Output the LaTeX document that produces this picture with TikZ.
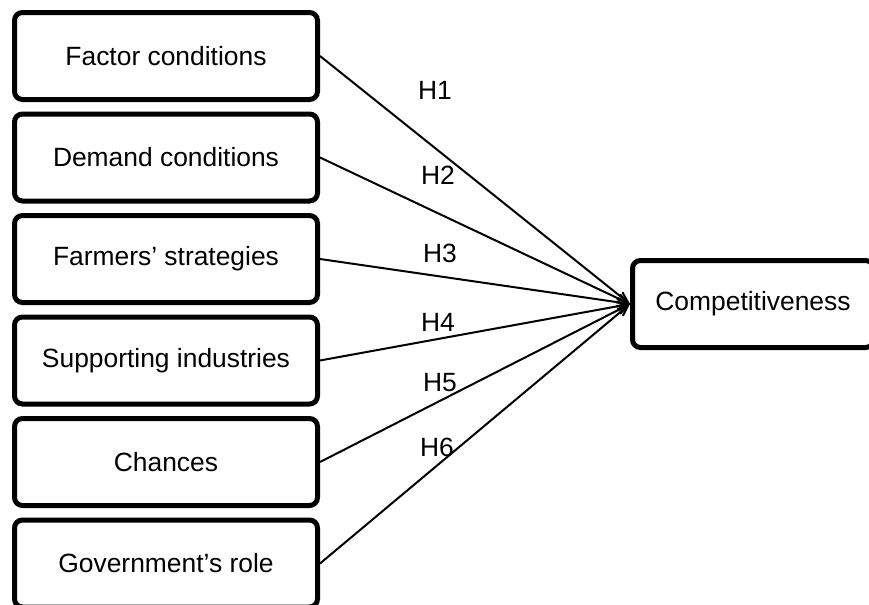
\documentclass[tikz,border=0pt]{standalone}
\usepackage{fontspec}
\setmainfont{Liberation Sans}
\usepackage{tikz}
\usetikzlibrary{arrows,positioning}
\tikzstyle{fact}=[draw, line width=2.5pt, rounded corners=4pt, minimum width=151.5pt, minimum height=43.5pt, font=\fontsize{13.2}{16}\selectfont]
\tikzstyle{hyp}=[font=\fontsize{13.2}{16}\selectfont]

\begin{document}
\begin{tikzpicture}[x=0.5pt,y=-0.5pt,node distance=4.75pt,auto,>=angle 45]
        \useasboundingbox (0,0) rectangle (869,605);
        \node [fact] (fc) at (166,56) {Factor conditions};
        \node [fact] (dc) [below=of fc] {Demand conditions};
        \node [fact] (fs) [below=of dc] {Farmers’ strategies};
        \node [fact] (si) [below=of fs] {Supporting industries};
        \node [fact] (ch) [below=of si] {Chances};
        \node [fact] (gr) [below=of ch] {Government’s role};
        \node [fact, minimum width=120.5pt] (comp) at (753,304) {Competitiveness};

        \node [hyp] (h1) at (435,90) {H1};
        \node [hyp] (h2) at (438,175) {H2};
        \node [hyp] (h3) at (440,253) {H3};
        \node [hyp] (h4) at (438,322) {H4};
        \node [hyp] (h5) at (440,383) {H5};
        \node [hyp] (h6) at (437,447) {H6};

        \path[->,line width=1pt] (fc.east) edge (comp.west);
        \path[->,line width=1pt] (dc.east) edge (comp.west);
        \path[->,line width=1pt] (fs.east) edge (comp.west);
        \path[->,line width=1pt] (si.east) edge (comp.west);
        \path[->,line width=1pt] (ch.east) edge (comp.west);
        \path[->,line width=1pt] (gr.east) edge (comp.west);
\end{tikzpicture}
\end{document}
